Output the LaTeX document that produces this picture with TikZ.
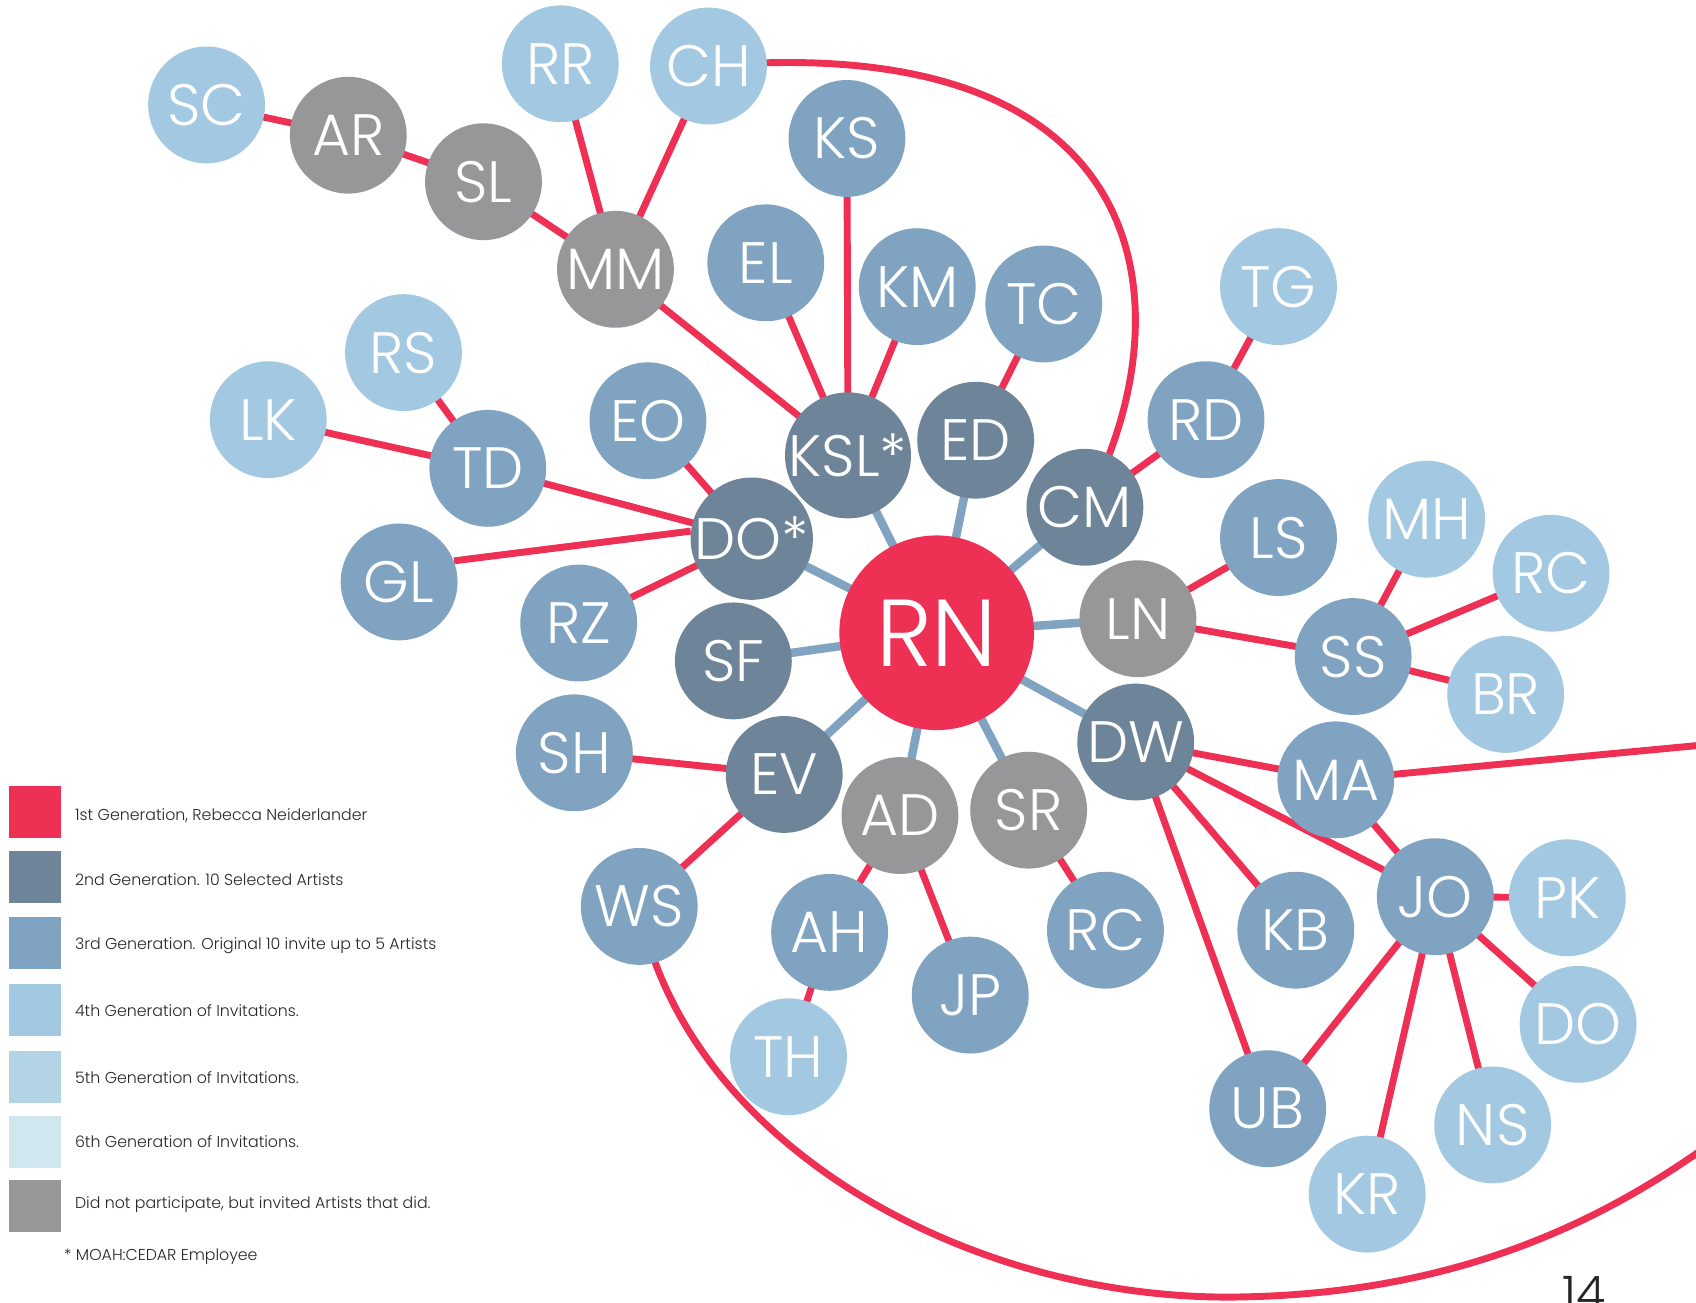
\documentclass[tikz,border=0pt]{standalone}
\usepackage{fontspec}
\setmainfont{Poppins Light}
\usetikzlibrary{backgrounds}
\definecolor{cred}{HTML}{EF3055}
\definecolor{cdark}{HTML}{6E8599}
\definecolor{cmid}{HTML}{7FA3C0}
\definecolor{clight}{HTML}{A2C8E2}
\definecolor{cfifth}{HTML}{B3D4E4}
\definecolor{csixth}{HTML}{D0E7EF}
\definecolor{cgray}{HTML}{979799}
\tikzset{
  art/.style={circle,inner sep=0pt,minimum size=54pt,text=white,font=\fontsize{27}{27}\selectfont},
  gen1/.style={art,fill=cred,minimum size=90pt,font=\fontsize{44}{44}\selectfont},
  gen2/.style={art,fill=cdark},
  gen3/.style={art,fill=cmid},
  gen4/.style={art,fill=clight},
  gno/.style={art,fill=cgray},
  redl/.style={draw=cred,line width=3.2pt},
  bluel/.style={draw=cmid,line width=3.9pt},
  legbox/.style={inner sep=0pt,minimum size=24pt},
  legtext/.style={anchor=west,inner sep=0pt,font=\fontsize{7.3}{8}\selectfont,text=black!85}
}
\begin{document}
\begin{tikzpicture}[x=0.5pt,y=-0.5pt]
\useasboundingbox (0,0) rectangle (1568,1204);
% nodes
\node[gen1] (RN) at (866,585) {RN};
\node[gen4] (SC) at (191,97) {SC};
\node[gno] (AR) at (322,125) {AR};
\node[gno] (SL) at (447,168) {SL};
\node[gen4] (RR) at (518,59) {RR};
\node[gen4] (CH) at (655,61) {CH};
\node[gno] (MM) at (569,249) {MM};
\node[gen3] (KS) at (783,128) {KS};
\node[gen3] (EL) at (708,243) {EL};
\node[gen3] (KM) at (848,265) {KM};
\node[gen3] (TC) at (965,281) {TC};
\node[gen4] (TG) at (1182,265) {TG};
\node[gen4] (RS) at (373,326) {RS};
\node[gen4] (LK) at (248,388) {LK};
\node[gen3] (TD) at (451,433) {TD};
\node[gen3] (EO) at (599,389) {EO};
\node[gen2] (KSL) at (784,421) {KSL*};
\node[gen2] (ED) at (902,407) {ED};
\node[gen3] (RD) at (1115,388) {RD};
\node[gen2] (CM) at (1003,469) {CM};
\node[gen2] (DO) at (695,498) {DO*};
\node[gen3] (GL) at (369,538) {GL};
\node[gen3] (RZ) at (535,576) {RZ};
\node[gen2] (SF) at (678,611) {SF};
\node[gno] (LN) at (1052,572) {LN};
\node[gen3] (LS) at (1182,497) {LS};
\node[gen4] (MH) at (1319,480) {MH};
\node[gen4] (RC) at (1434,530) {RC};
\node[gen3] (SS) at (1251,607) {SS};
\node[gen4] (BR) at (1392,642) {BR};
\node[gen3] (SH) at (531,696) {SH};
\node[gen2] (EV) at (725,716) {EV};
\node[gno] (AD) at (832,754) {AD};
\node[gno] (SR) at (951,749) {SR};
\node[gen2] (DW) at (1050,686) {DW};
\node[gen3] (MA) at (1235,721) {MA};
\node[gen3] (WS) at (591,838) {WS};
\node[gen3] (AH) at (767,862) {AH};
\node[gen3] (JP) at (897,920) {JP};
\node[gen3] (RCb) at (1022,860) {RC};
\node[gen3] (KB) at (1198,860) {KB};
\node[gen3] (JO) at (1327,829) {JO};
\node[gen4] (PK) at (1449,830) {PK};
\node[gen4] (DOb) at (1459,947) {DO};
\node[gen4] (TH) at (729,977) {TH};
\node[gen3] (UB) at (1172,1025) {UB};
\node[gen4] (NS) at (1380,1040) {NS};
\node[gen4] (KR) at (1264,1104) {KR};
\coordinate (MAend) at (1572,689);
\coordinate (WSend) at (1572,1064);
% edges
\begin{scope}[on background layer]
\foreach \a/\b in {SC/AR,AR/SL,SL/MM,RR/MM,CH/MM,MM/KSL,KS/KSL,EL/KSL,KM/KSL,TC/ED,TG/RD,RD/CM,RS/TD,LK/TD,TD/DO,EO/DO,RZ/DO,LN/LS,LN/SS,SS/MH,SS/RC,SS/BR,SH/EV,WS/EV,AD/AH,AH/TH,AD/JP,SR/RCb,DW/MA,DW/KB,DW/JO,DW/UB,MA/JO,JO/PK,JO/DOb,JO/NS,JO/KR,JO/UB}
  \draw[redl] (\a.center) -- (\b.center);
\draw[redl] (GL.21) -- (DO.173);
\draw[redl] (MA.center) -- (MAend);
\draw[redl] (CH.center) .. controls (1085,25) and (1095,300) .. (CM.center);
\draw[redl] (WS.center) .. controls (635,1060) and (900,1205) .. (1150,1199)
   .. controls (1350,1195) and (1480,1128) .. (WSend);
\foreach \b in {KSL,ED,CM,DO,SF,LN,DW,EV,AD,SR}
  \draw[bluel] (RN.center) -- (\b.center);
\end{scope}
% legend
\node[legbox,fill=cred] (L1) at (32,751) {};
\node[legbox,fill=cdark] (L2) at (32,811) {};
\node[legbox,fill=cmid] (L3) at (32,872) {};
\node[legbox,fill=clight] (L4) at (32,934) {};
\node[legbox,fill=cfifth] (L5) at (32,996) {};
\node[legbox,fill=csixth] (L6) at (32,1056) {};
\node[legbox,fill=cgray] (L7) at (32,1115) {};
\node[legtext] (T1) at (69,754) {1st Generation, Rebecca Neiderlander};
\node[legtext] (T2) at (69,813) {2nd Generation. 10 Selected Artists};
\node[legtext] (T3) at (69,874) {3rd Generation. Original 10 invite up to 5 Artists};
\node[legtext] (T4) at (69,934) {4th Generation of Invitations.};
\node[legtext] (T5) at (69,996) {5th Generation of Invitations.};
\node[legtext] (T6) at (69,1055) {6th Generation of Invitations.};
\node[legtext] (T7) at (69,1114) {Did not participate, but invited Artists that did.};
\node[legtext] (T8) at (59,1162) {* MOAH:CEDAR Employee};
\node[anchor=north west,inner sep=0pt,font=\fontsize{22}{22}\selectfont,text=black!85] (pg) at (1444,1180) {14};
\end{tikzpicture}
\end{document}
